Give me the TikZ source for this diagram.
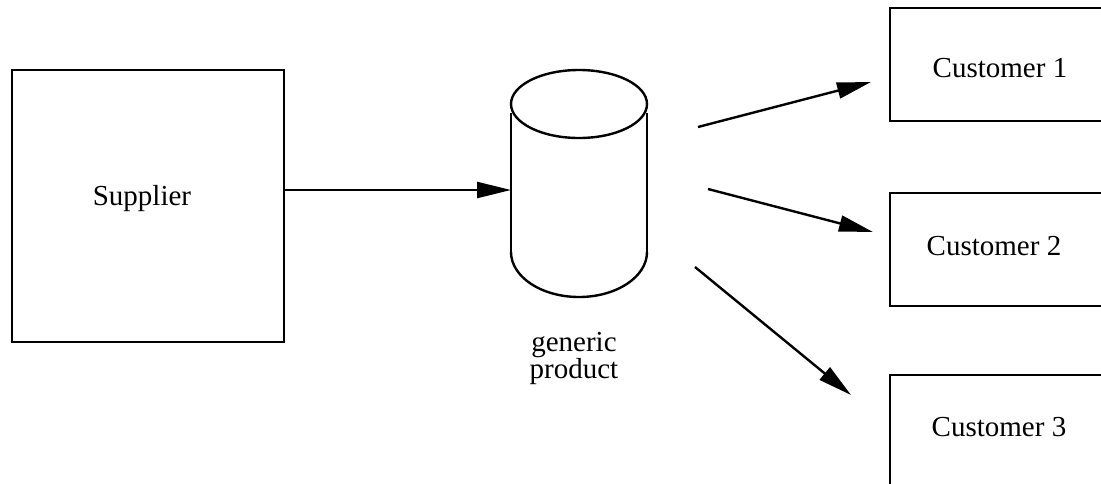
\documentclass[tikz,border=0pt]{standalone}
\usepackage{fontspec}
\setmainfont{Liberation Serif}
\usetikzlibrary{arrows.meta}
\begin{document}
\begin{tikzpicture}[x=1pt,y=-1pt,line width=2.4pt,
  lbl/.style={inner sep=0pt,font=\fontsize{29}{27}\selectfont},
  box/.style={draw,rectangle,inner sep=0pt},
  arr/.style={-{Triangle[length=34pt,width=16pt]}}]
\useasboundingbox (0,0) rectangle (1101,483);
% supplier
\node[box,minimum width=272pt,minimum height=272pt] (sup) at (148,206) {};
\node[lbl] (suptxt) at (142,199) {Supplier};
% cylinder
\draw (579,104) ellipse [x radius=68pt, y radius=34pt];
\draw (511,113) -- (511,252);
\draw (647,113) -- (647,252);
\draw (511,252) arc [start angle=180, end angle=360, x radius=68pt, y radius=45pt];
\coordinate (cyl) at (511,190);
\node[lbl,align=center] (gp) at (574,358) {generic\\product};
% customers (right edges run off the page)
\draw (1110,8) -- (890,8) -- (890,121) -- (1110,121);
\draw (1110,193) -- (890,193) -- (890,306) -- (1110,306);
\draw (1110,375) -- (890,375) -- (890,495);
\node[lbl] (c1) at (1000,68) {Customer 1};
\node[lbl] (c2) at (994,246) {Customer 2};
\node[lbl] (c3) at (999,427) {Customer 3};
% connectors
\coordinate (s1) at (698,127); \coordinate (t1) at (871,82);
\coordinate (s2) at (708,189); \coordinate (t2) at (873,232);
\coordinate (s3) at (695,267); \coordinate (t3) at (851,395);
\draw[arr] (sup.east |- cyl) -- (cyl);
\draw[arr] (s1) -- (t1);
\draw[arr] (s2) -- (t2);
\draw[arr] (s3) -- (t3);
\end{tikzpicture}
\end{document}
